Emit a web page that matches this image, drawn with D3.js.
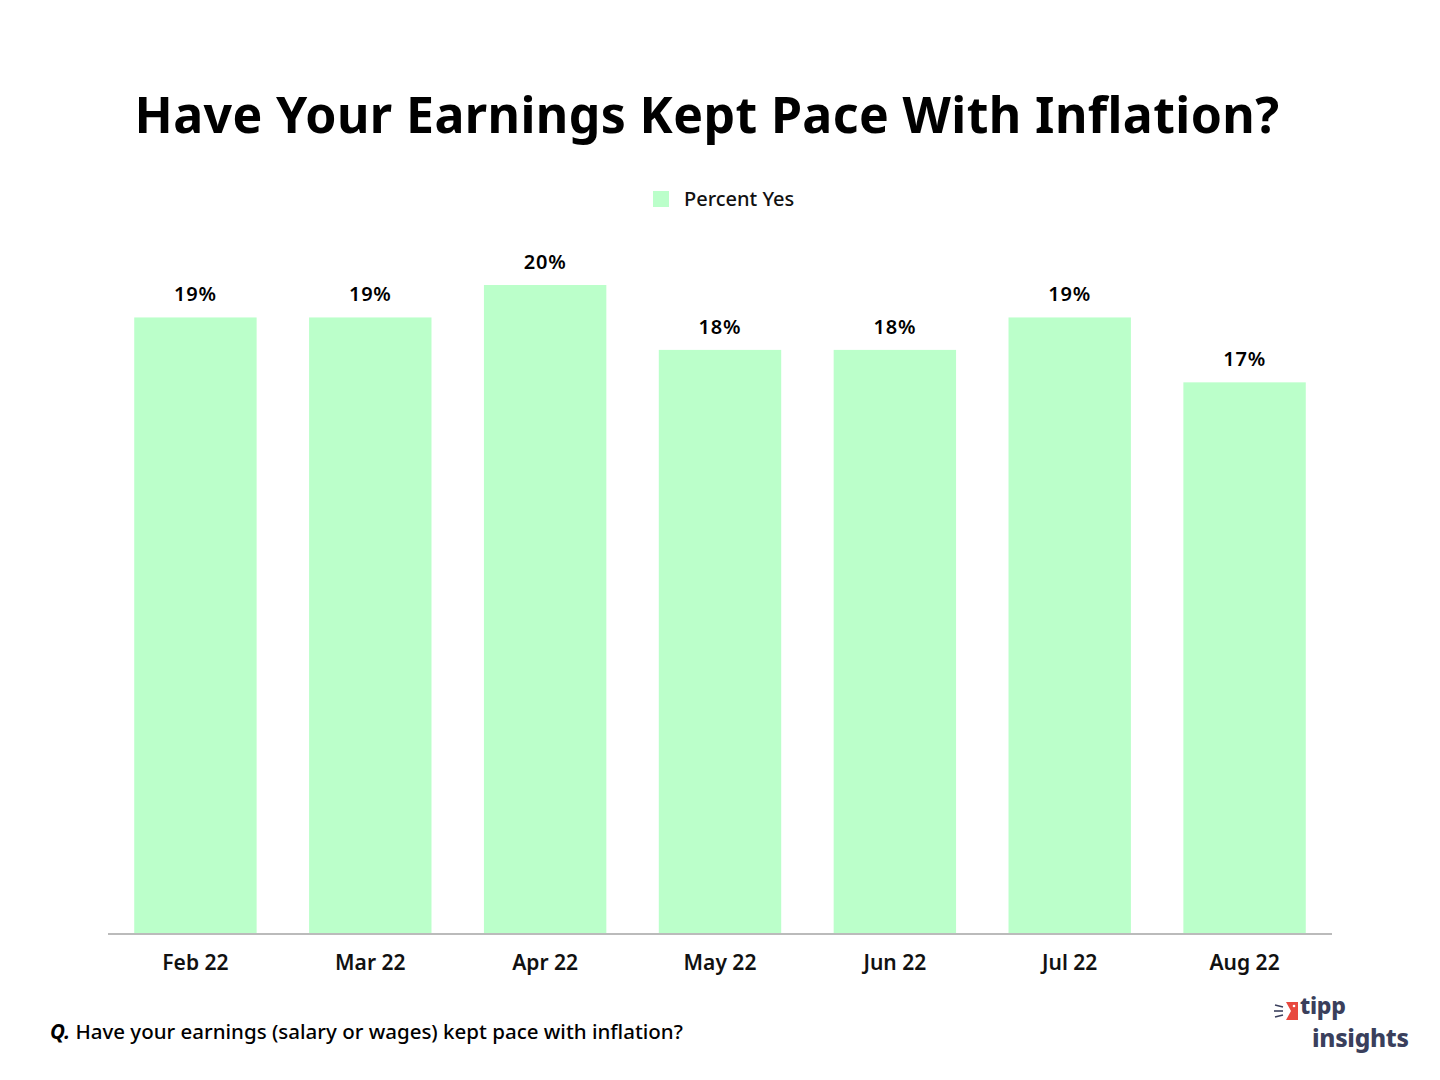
<!DOCTYPE html>
<html>
<head>
<meta charset="utf-8">
<script src="https://cdn.jsdelivr.net/npm/d3@7"></script>
<style>
body { margin: 0; background: #fff; }
svg { display: block; font-family: "Noto Sans", "Open Sans", sans-serif; }
</style>
</head>
<body>
<svg id="chart"></svg>
<script>
const months = ['Feb 22', 'Mar 22', 'Apr 22', 'May 22', 'Jun 22', 'Jul 22', 'Aug 22'];
const percentYes = [19, 19, 20, 18, 18, 19, 17];
const seriesName = 'Percent Yes';

const width = 1440,
	height = 1080,
	left = 108,
	right = 1332,
	baseline = 934,
	barColor = '#bbffca';

const svg = d3.select('#chart').attr('width', width).attr('height', height);

svg
	.append('text')
	.attr('x', 707)
	.attr('y', 133)
	.attr('text-anchor', 'middle')
	.attr('font-size', '50px')
	.attr('font-weight', 700)
	.attr('letter-spacing', '0.4px')
	.attr('fill', '#000')
	.text('Have Your Earnings Kept Pace With Inflation?');

// legend
svg.append('rect').attr('x', 653).attr('y', 191).attr('width', 16).attr('height', 16).attr('fill', barColor);
svg
	.append('text')
	.attr('x', 684)
	.attr('y', 206)
	.attr('font-size', '20px')
	.attr('font-weight', 500)
	.attr('fill', '#111')
	.text(seriesName);

let xScale = d3.scaleBand().domain(months).range([ left, right ]).paddingInner(0.3).paddingOuter(0.15);
let yScale = d3.scaleLinear().domain([ 0, 20 ]).range([ baseline, 285 ]);

svg
	.selectAll('rect.bar')
	.data(percentYes)
	.enter()
	.append('rect')
	.attr('class', 'bar')
	.attr('x', (d, i) => xScale(months[i]))
	.attr('y', (d) => yScale(d))
	.attr('width', xScale.bandwidth())
	.attr('height', (d) => baseline - yScale(d))
	.attr('fill', barColor);

svg
	.selectAll('text.val')
	.data(percentYes)
	.enter()
	.append('text')
	.attr('class', 'val')
	.attr('x', (d, i) => xScale(months[i]) + xScale.bandwidth() / 2)
	.attr('y', (d) => yScale(d) - 16)
	.attr('text-anchor', 'middle')
	.attr('font-size', '20px')
	.attr('font-weight', 600)
	.attr('letter-spacing', '0.8px')
	.attr('fill', '#000')
	.text((d) => d + '%');

let xAxis = d3.axisBottom(xScale).tickSize(0).tickPadding(21);
let gx = svg.append('g').attr('transform', 'translate(0,' + baseline + ')').call(xAxis);
gx.select('.domain').attr('stroke', '#bbbbbb').attr('stroke-width', 2).attr('d', 'M' + left + ',0H' + right);
gx
	.selectAll('.tick text')
	.attr('font-size', '21px')
	.attr('font-weight', 600)
	.attr('fill', '#111')
	.attr('font-family', '"Noto Sans", sans-serif');

// footnote
let note = svg.append('text').attr('x', 50).attr('y', 1039).attr('font-size', '20.5px').attr('fill', '#000');
note.append('tspan').attr('font-style', 'italic').attr('font-weight', 700).text('Q.');
note.append('tspan').attr('font-weight', 500).text(' Have your earnings (salary or wages) kept pace with inflation?');

// logo
let logo = svg.append('g');
logo.append('path').attr('d', 'M1286,1002 H1298 V1020 H1286 L1291,1011 Z').attr('fill', '#e8493f');
logo.append('circle').attr('cx', 1294).attr('cy', 1006).attr('r', 1.3).attr('fill', '#fff');
[ [ 1275, 1005, 1283, 1007 ], [ 1274, 1011, 1283, 1011 ], [ 1275, 1017, 1283, 1015 ] ].forEach((l) =>
	logo
		.append('line')
		.attr('x1', l[0])
		.attr('y1', l[1])
		.attr('x2', l[2])
		.attr('y2', l[3])
		.attr('stroke', '#3a3f5c')
		.attr('stroke-width', 1.6)
);
let brand = logo
	.append('text')
	.attr('font-weight', 800)
	.attr('fill', '#3a3f5c')
	.attr('letter-spacing', '-0.3px');
brand.append('tspan').attr('x', 1300).attr('y', 1014).attr('font-size', '23px').text('tipp');
brand.append('tspan').attr('x', 1312).attr('y', 1047).attr('font-size', '24.5px').text('insights');
</script>
</body>
</html>
